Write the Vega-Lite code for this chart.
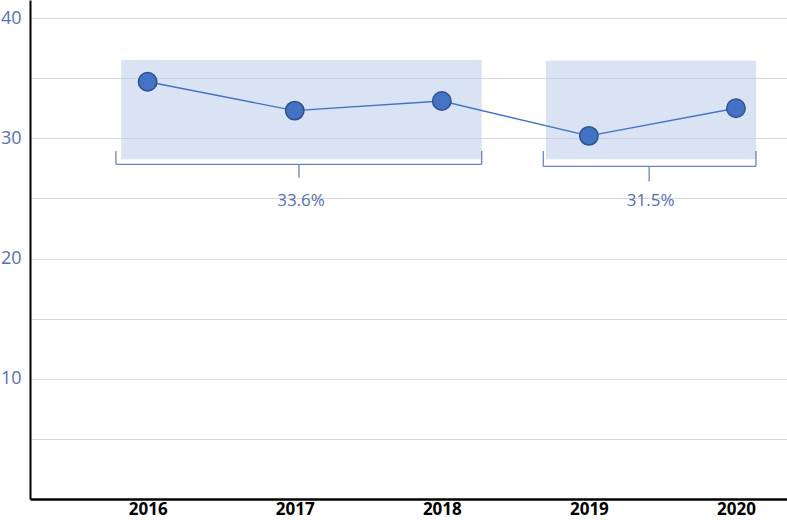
{
  "$schema": "https://vega.github.io/schema/vega-lite/v6.json",
  "width": 757,
  "height": 499,
  "autosize": {"type": "none"},
  "padding": {"left": 30, "top": 0, "right": 0, "bottom": 21},
  "background": "white",
  "config": {"view": {"stroke": null}},
  "datasets": {
    "points": [
      {"year": 2016, "value": 34.7},
      {"year": 2017, "value": 32.3},
      {"year": 2018, "value": 33.1},
      {"year": 2019, "value": 30.2},
      {"year": 2020, "value": 32.5}
    ],
    "boxes": [
      {"x1": 2015.82, "x2": 2018.271, "y1": 28.26, "y2": 36.52},
      {"x1": 2018.708, "x2": 2020.138, "y1": 28.26, "y2": 36.45}
    ],
    "brackets": [
      {"x1": 2015.784, "x2": 2018.271, "y1": 27.83, "y2": 27.83},
      {"x1": 2015.784, "x2": 2015.784, "y1": 27.83, "y2": 28.95},
      {"x1": 2018.271, "x2": 2018.271, "y1": 27.83, "y2": 28.95},
      {"x1": 2017.029, "x2": 2017.029, "y1": 27.83, "y2": 26.71},
      {"x1": 2018.69, "x2": 2020.136, "y1": 27.66, "y2": 27.66},
      {"x1": 2018.69, "x2": 2018.69, "y1": 27.66, "y2": 28.95},
      {"x1": 2020.136, "x2": 2020.136, "y1": 27.66, "y2": 28.95},
      {"x1": 2019.41, "x2": 2019.41, "y1": 27.66, "y2": 26.41}
    ],
    "labels": [
      {"x": 2017.043, "y": 24.79, "text": "33.6%"},
      {"x": 2019.42, "y": 24.79, "text": "31.5%"}
    ]
  },
  "layer": [
    {
      "data": {"name": "boxes"},
      "mark": {"type": "rect", "fill": "#b4c7e7", "opacity": 0.5},
      "encoding": {
        "x": {"field": "x1", "type": "quantitative", "scale": {"domain": [2015.2, 2020.347], "nice": false, "zero": false},
          "axis": {"values": [2016, 2017, 2018, 2019, 2020], "format": "d", "title": null, "grid": false, "ticks": false,
            "domainColor": "#000000", "domainWidth": 2.5, "labelFont": "Open Sans", "labelFontWeight": "bold",
            "labelFontSize": 17, "labelColor": "#000000", "labelPadding": 2}},
        "x2": {"field": "x2"},
        "y": {"field": "y1", "type": "quantitative", "scale": {"domain": [0, 41.5], "nice": false},
          "axis": {"values": [5, 10, 15, 20, 25, 30, 35, 40], "labelExpr": "datum.value % 10 == 0 ? datum.label : ''",
            "title": null, "ticks": false, "gridColor": "#d9d9d9", "gridWidth": 1, "domainColor": "#000000",
            "domainWidth": 2, "labelFont": "Open Sans", "labelFontSize": 18, "labelColor": "#5470b4", "labelPadding": 9}},
        "y2": {"field": "y2"}
      }
    },
    {
      "data": {"name": "brackets"},
      "mark": {"type": "rule", "color": "#6a84bd", "strokeWidth": 1.3},
      "encoding": {
        "x": {"field": "x1", "type": "quantitative"},
        "x2": {"field": "x2"},
        "y": {"field": "y1", "type": "quantitative"},
        "y2": {"field": "y2"}
      }
    },
    {
      "data": {"name": "points"},
      "mark": {"type": "line", "color": "#4472c4", "strokeWidth": 1.4},
      "encoding": {
        "x": {"field": "year", "type": "quantitative"},
        "y": {"field": "value", "type": "quantitative"}
      }
    },
    {
      "data": {"name": "points"},
      "mark": {"type": "point", "shape": "circle", "filled": true, "fill": "#4472c4", "stroke": "#2f528f", "strokeWidth": 1.5, "size": 340, "opacity": 1},
      "encoding": {
        "x": {"field": "year", "type": "quantitative"},
        "y": {"field": "value", "type": "quantitative"}
      }
    },
    {
      "data": {"name": "labels"},
      "mark": {"type": "text", "font": "Open Sans", "fontSize": 17, "fontWeight": 500, "color": "#5470b4", "align": "center", "baseline": "middle"},
      "encoding": {
        "x": {"field": "x", "type": "quantitative"},
        "y": {"field": "y", "type": "quantitative"},
        "text": {"field": "text"}
      }
    }
  ]
}
